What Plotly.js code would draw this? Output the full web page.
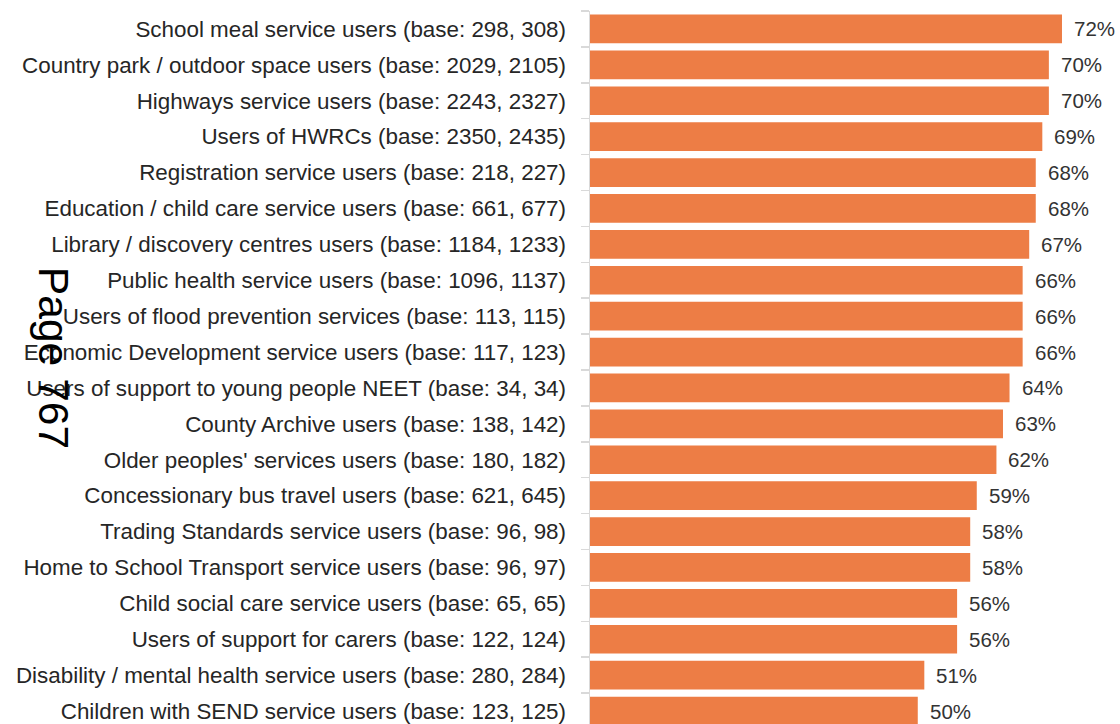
<!DOCTYPE html>
<html>
<head>
<meta charset="utf-8">
<script src="https://cdn.plot.ly/plotly-3.0.1.min.js"></script>
<style>html,body{margin:0;padding:0;background:#fff;}#chart{width:1120px;height:724px;}</style>
</head>
<body>
<div id="chart"></div>
<script>
const categories = [
  "School meal service users (base: 298, 308)",
  "Country park / outdoor space users (base: 2029, 2105)",
  "Highways service users (base: 2243, 2327)",
  "Users of HWRCs (base: 2350, 2435)",
  "Registration service users (base: 218, 227)",
  "Education / child care service users (base: 661, 677)",
  "Library / discovery centres users (base: 1184, 1233)",
  "Public health service users (base: 1096, 1137)",
  "Users of flood prevention services (base: 113, 115)",
  "Economic Development service users (base: 117, 123)",
  "Users of support to young people NEET (base: 34, 34)",
  "County Archive users (base: 138, 142)",
  "Older peoples' services users (base: 180, 182)",
  "Concessionary bus travel users (base: 621, 645)",
  "Trading Standards service users (base: 96, 98)",
  "Home to School Transport service users (base: 96, 97)",
  "Child social care service users (base: 65, 65)",
  "Users of support for carers (base: 122, 124)",
  "Disability / mental health service users (base: 280, 284)",
  "Children with SEND service users (base: 123, 125)"
];
const values = [72, 70, 70, 69, 68, 68, 67, 66, 66, 66, 64, 63, 62, 59, 58, 58, 56, 56, 51, 50];
const valueLabels = values.map(v => v + "%");
const pageText = "Page 767";

const font = "Liberation Sans, Arial, Helvetica, sans-serif";

const trace = {
  type: "bar",
  orientation: "h",
  x: values,
  y: categories,
  width: 0.8,
  marker: {color: "#ED7D45", line: {width: 0}},
  hoverinfo: "none"
};

const annotations = values.map((v, i) => ({
  x: v, y: categories[i], xref: "x", yref: "y",
  text: valueLabels[i], showarrow: false,
  xanchor: "left", yanchor: "middle", xshift: 10,
  font: {family: font, size: 20.5, color: "#333333"}
}));
annotations.push({
  xref: "paper", yref: "paper", x: -1.01, y: 0.514,
  xanchor: "center", yanchor: "middle",
  text: pageText, showarrow: false, textangle: 90,
  font: {family: font, size: 42.6, color: "#000"}
});

const layout = {
  width: 1120, height: 724,
  margin: {l: 590, r: 0, t: 11, b: 0, pad: 0},
  paper_bgcolor: "#fff", plot_bgcolor: "#fff",
  showlegend: false,
  xaxis: {range: [0, 80.85], visible: false, fixedrange: true},
  yaxis: {
    type: "category",
    range: [19.5 - 5/36, -0.5],
    showline: true, linecolor: "#d9d9d9", linewidth: 1.5,
    ticks: "outside", tickson: "boundaries", ticklen: 8, tickcolor: "#d9d9d9", tickwidth: 1.5,
    showgrid: false, zeroline: false,
    ticklabelstandoff: 18,
    tickfont: {family: font, size: 22.4, color: "#262626"},
    fixedrange: true
  },
  annotations: annotations
};

Plotly.newPlot("chart", [trace], layout, {displayModeBar: false, staticPlot: true});
</script>
</body>
</html>
